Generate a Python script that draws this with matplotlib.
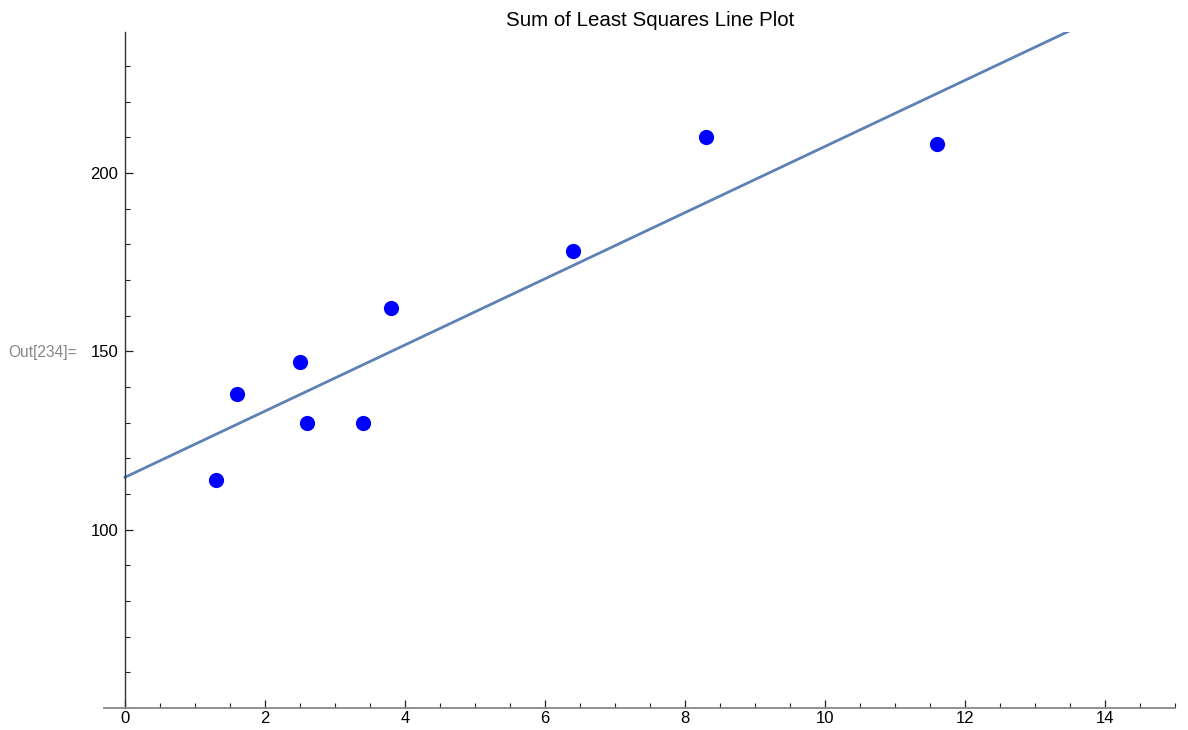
import numpy as np
import matplotlib
matplotlib.use("Agg")
import matplotlib.pyplot as plt
from matplotlib.ticker import MultipleLocator, FixedLocator

plt.rcParams['font.family'] = ['Liberation Sans', 'DejaVu Sans']

x_vals = [1.3, 1.6, 2.5, 2.6, 3.4, 3.8, 6.4, 8.3, 11.6]
y_vals = [114, 138, 147, 130, 130, 162, 178, 210, 208]
title = "Sum of Least Squares Line Plot"
x_major = [0, 2, 4, 6, 8, 10, 12, 14]
y_major = [100, 150, 200]

slope, intercept = np.polyfit(x_vals, y_vals, 1)
xs = np.linspace(0, 15, 200)

fig = plt.figure(figsize=(11.88, 7.30), dpi=100)
ax = fig.add_axes([104/1188, 1-708/730, (1175-104)/1188, (708-32)/730])
ax.set_xlim(-0.3, 15.0)
ax.set_ylim(50, 239.5)

ax.plot(xs, slope*xs + intercept, color='#5E81B5', lw=2.0, zorder=2)
ax.scatter(x_vals, y_vals, s=120, color='#0000FF', zorder=3, linewidths=0)

for s in ['top', 'right']:
    ax.spines[s].set_visible(False)
ax.spines['left'].set_position(('data', 0))
ax.spines['bottom'].set_position(('data', 50))
ax.spines['left'].set_color('#333333')
ax.spines['bottom'].set_color('#888888')
ax.spines['left'].set_linewidth(1.0)
ax.spines['bottom'].set_linewidth(1.3)

ax.xaxis.set_major_locator(FixedLocator(x_major))
ax.xaxis.set_minor_locator(MultipleLocator(0.5))
ax.yaxis.set_major_locator(FixedLocator(y_major))
ax.yaxis.set_minor_locator(FixedLocator([v for v in range(60, 240, 10) if v not in y_major]))
ax.tick_params(axis='both', which='major', direction='in', length=6, width=0.9,
               color='#222222', labelsize=12, labelcolor='black')
ax.tick_params(axis='both', which='minor', direction='in', length=3.5, width=0.8, color='#222222')
ax.tick_params(axis='x', which='major', pad=2)
ax.tick_params(axis='y', which='major', pad=5)

fig.text(650/1188, 1-20/730, title, ha='center', va='center', fontsize=14.8)
fig.text(8/1188, 1-352/730, "Out[234]=", ha='left', va='center', fontsize=11.2, color='#888888')

fig.savefig("out.png", dpi=100)
